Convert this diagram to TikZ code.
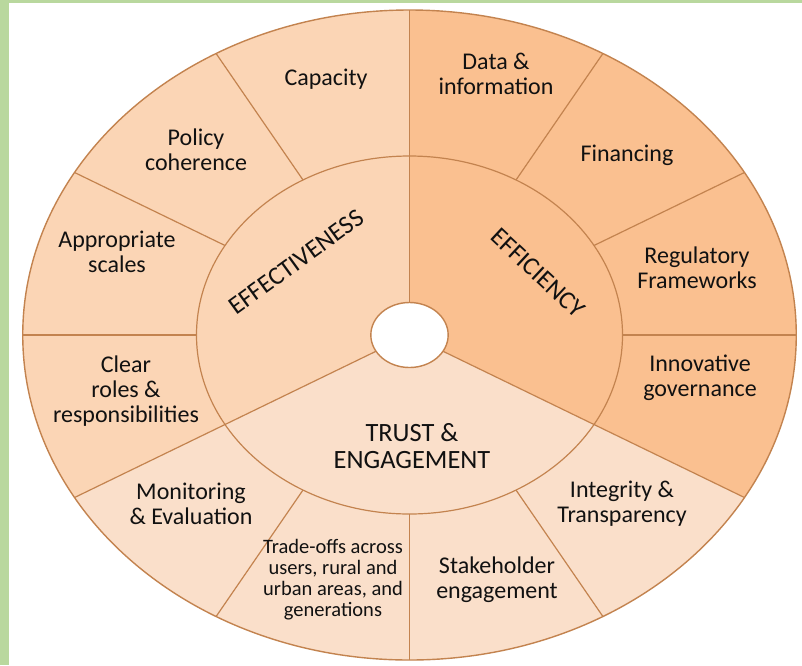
\documentclass[tikz,border=0pt]{standalone}
\usepackage{fontspec}
\setmainfont{Carlito}
\usetikzlibrary{calc}
\definecolor{effcol}{HTML}{FBD5B5}
\definecolor{efficol}{HTML}{FAC090}
\definecolor{trustcol}{HTML}{FADFCA}
\definecolor{linecol}{HTML}{C3834F}
\definecolor{greencol}{HTML}{B9D89E}
\definecolor{txtcol}{HTML}{111111}
\begin{document}
\begin{tikzpicture}[x=0.5pt,y=-0.5pt,
  rim/.style={draw=linecol, line width=0.7pt},
  spoke/.style={draw=linecol, line width=0.6pt},
  lab/.style={align=center, text=txtcol, inner sep=0pt, font=\fontsize{12pt}{12.5pt}\selectfont},
  smalllab/.style={align=center, text=txtcol, inner sep=0pt, font=\fontsize{10.25pt}{10.5pt}\selectfont},
  inlab/.style={align=center, text=txtcol, inner sep=0pt, font=\fontsize{12.8pt}{13.4pt}\selectfont}]
\useasboundingbox (0,0) rectangle (802,665);
\fill[white] (0,0) rectangle (802,665);
\fill[greencol] (0,0) rectangle (802,3);
\fill[greencol] (0,0) rectangle (9,665);
\begin{scope}[shift={(409.5,335)}, x=0.595pt, y=0.5pt]
  \coordinate (c) at (0,0);
  % sector fills
  \fill[effcol] (c) -- (90:325) arc[start angle=90, end angle=210, radius=325] -- cycle;
  \fill[efficol] (c) -- (-30:325) arc[start angle=-30, end angle=90, radius=325] -- cycle;
  \fill[trustcol] (c) -- (210:325) arc[start angle=210, end angle=330, radius=325] -- cycle;
  % main spokes from hole to rim
  \foreach \a in {90,210,330} \draw[spoke] (\a:32.5) -- (\a:325);
  % outer segment spokes
  \foreach \a in {0,30,60,120,150,180,240,270,300} \draw[spoke] (\a:179) -- (\a:325);
  % rings
  \draw[rim] (c) circle[radius=325];
  \draw[spoke] (c) circle[radius=179];
  \filldraw[fill=white, draw=linecol, line width=0.7pt] (c) circle[radius=32.5];
\end{scope}
% inner labels
\node[inlab, rotate=36] (effect) at (296,262) {EFFECTIVENESS};
\node[inlab, rotate=-43] (effic) at (538,273) {EFFICIENCY};
\node[inlab, font=\fontsize{13.2pt}{13.4pt}\selectfont] (trust) at (412,446) {TRUST \&\\ENGAGEMENT};
% outer labels: effectiveness
\node[lab] (capacity) at (326,79) {Capacity};
\node[lab] (policy) at (196,150) {Policy\\coherence};
\node[lab] (scales) at (117,252) {Appropriate\\scales};
\node[lab] (roles) at (126,391) {Clear\\roles \&\\responsibilities};
% outer labels: efficiency
\node[lab] (data) at (496,74) {Data \&\\information};
\node[lab] (financing) at (627,155) {Financing};
\node[lab] (regul) at (697,268) {Regulatory\\Frameworks};
\node[lab] (innov) at (700,378) {Innovative\\governance};
% outer labels: trust
\node[lab] (monitor) at (191,504) {Monitoring\\\& Evaluation};
\node[smalllab] (trade) at (333,580) {Trade-offs across\\users, rural and\\urban areas, and\\generations};
\node[lab] (stake) at (497,580) {Stakeholder\\engagement};
\node[lab] (integ) at (622,504) {Integrity \&\\Transparency};
\end{tikzpicture}
\end{document}
